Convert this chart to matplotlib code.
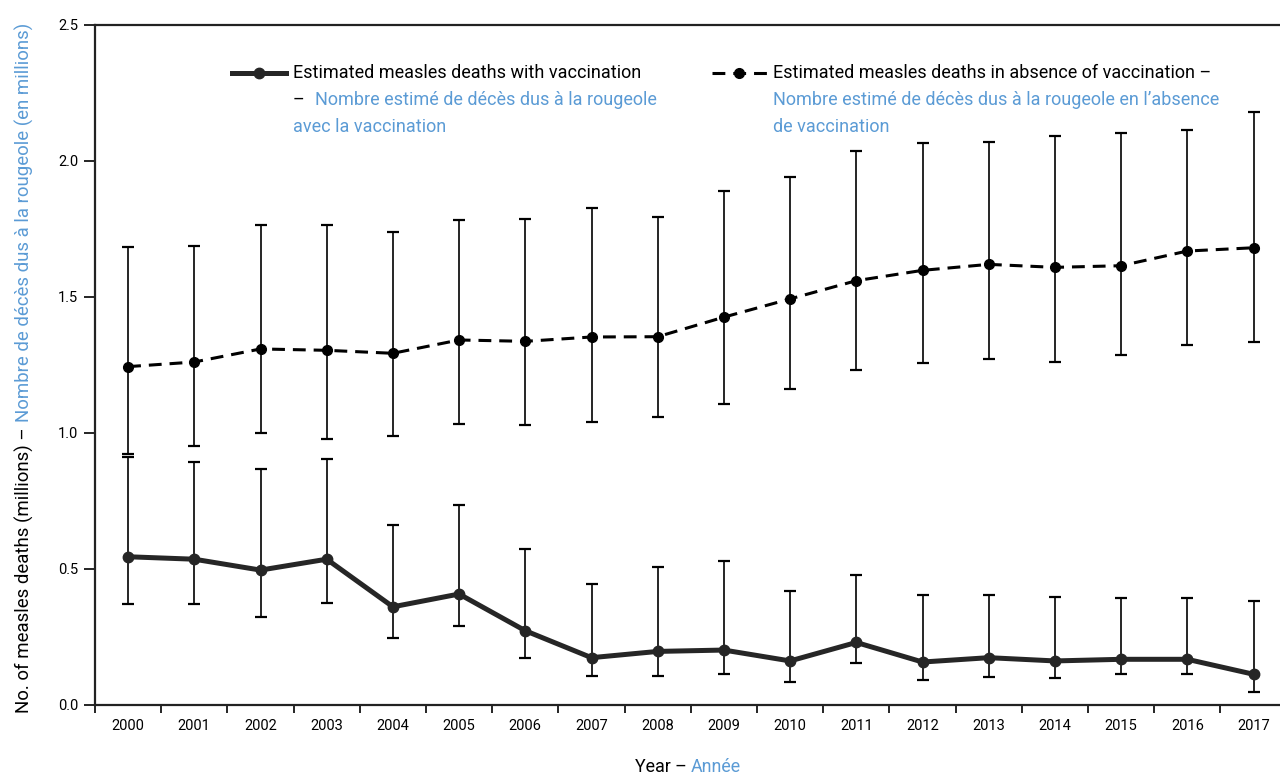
import matplotlib
matplotlib.use("Agg")
import matplotlib.pyplot as plt
from matplotlib import font_manager
from matplotlib.lines import Line2D
import numpy as np

# ---------------- data ----------------
years = [str(y) for y in range(2000, 2018)]
with_vacc = [0.545, 0.536, 0.496, 0.536, 0.361, 0.408, 0.273, 0.174, 0.197,
             0.202, 0.162, 0.230, 0.158, 0.174, 0.162, 0.168, 0.168, 0.113]
with_lo = [0.370, 0.370, 0.325, 0.375, 0.247, 0.292, 0.174, 0.108, 0.108,
           0.115, 0.086, 0.153, 0.092, 0.103, 0.098, 0.115, 0.115, 0.049]
with_hi = [0.913, 0.894, 0.868, 0.906, 0.663, 0.734, 0.575, 0.446, 0.508,
           0.530, 0.420, 0.479, 0.403, 0.403, 0.397, 0.392, 0.392, 0.381]
no_vacc = [1.244, 1.261, 1.309, 1.304, 1.293, 1.342, 1.337, 1.353, 1.354,
           1.426, 1.493, 1.560, 1.598, 1.620, 1.609, 1.615, 1.669, 1.681]
no_lo = [0.923, 0.951, 1.000, 0.978, 0.990, 1.034, 1.028, 1.039, 1.057,
         1.105, 1.161, 1.232, 1.256, 1.271, 1.261, 1.288, 1.322, 1.335]
no_hi = [1.683, 1.688, 1.766, 1.766, 1.738, 1.783, 1.788, 1.827, 1.795,
         1.889, 1.942, 2.038, 2.065, 2.070, 2.093, 2.104, 2.114, 2.181]
yticks = [0.0, 0.5, 1.0, 1.5, 2.0, 2.5]

leg1_en = "Estimated measles deaths with vaccination"
leg1_fr_a = "Nombre estimé de décès dus à la rougeole"
leg1_fr_b = "avec la vaccination"
leg2_en = "Estimated measles deaths in absence of vaccination –"
leg2_fr_a = "Nombre estimé de décès dus à la rougeole en l’absence"
leg2_fr_b = "de vaccination"
ylab_en = "No. of measles deaths (millions) – "
ylab_fr = "Nombre de décès dus à la rougeole (en millions)"
xlab_en = "Year – "
xlab_fr = "Année"

# ---------------- fonts ----------------
def pick_font(cands):
    for c in cands:
        try:
            font_manager.findfont(font_manager.FontProperties(family=c),
                                  fallback_to_default=False)
            return c
        except Exception:
            pass
    return "DejaVu Sans"

FONT = pick_font(["Liberation Sans Narrow", "DejaVu Sans Condensed",
                  "Roboto", "Liberation Sans", "DejaVu Sans"])
plt.rcParams['font.family'] = [FONT, 'DejaVu Sans']

BLUE = "#5b9bd5"
DARK = "#262626"
W, H = 1280, 776

fig = plt.figure(figsize=(12.8, 7.76), dpi=100)
renderer = fig.canvas.get_renderer()
fx = lambda px: px / W
fy = lambda py: 1 - py / H


def fit_size(text, target_px, base=12.0):
    t = fig.text(0, 0, text, fontsize=base)
    w = t.get_window_extent(renderer).width
    t.remove()
    return base * target_px / w


FS = fit_size(leg1_en, 345)
TFS = fit_size("2000", 33)
YFS = fit_size(ylab_en + ylab_fr, 690)
XFS = fit_size(xlab_en + xlab_fr, 107)

ax = fig.add_axes([fx(95), fy(705), fx(1280) - fx(95), fy(25) - fy(705)])
x = np.arange(len(years))

ax.errorbar(x, no_vacc,
            yerr=[np.array(no_vacc) - np.array(no_lo), np.array(no_hi) - np.array(no_vacc)],
            fmt='none', ecolor='black', elinewidth=1.2, capsize=4, capthick=1.6, zorder=2)
ax.errorbar(x, with_vacc,
            yerr=[np.array(with_vacc) - np.array(with_lo), np.array(with_hi) - np.array(with_vacc)],
            fmt='none', ecolor='black', elinewidth=1.2, capsize=4, capthick=1.6, zorder=2)

ax.plot(x, no_vacc, color='black', lw=2.2, dashes=(4.2, 2.6),
        marker='o', ms=7, zorder=3)
ax.plot(x, with_vacc, color=DARK, lw=3.6,
        marker='o', ms=7.5, zorder=3)

ax.set_xlim(-0.5, 17.4)
ax.set_ylim(0, 2.5)
ax.set_yticks(yticks)
ax.set_yticklabels([f"{v:.1f}" for v in yticks])
ax.set_xticks(x)
ax.set_xticklabels(years)
ax.set_xticks(np.arange(-0.5, 17.5, 1.0), minor=True)
ax.tick_params(axis='x', which='major', length=0, pad=10, labelsize=TFS)
ax.tick_params(axis='x', which='minor', length=6, width=1.2, direction='out')
ax.tick_params(axis='y', which='major', length=8, width=1.2, direction='out',
               pad=4, labelsize=TFS)
for s in ['left', 'bottom', 'top']:
    ax.spines[s].set_linewidth(1.6)
    ax.spines[s].set_color('#222222')
ax.spines['right'].set_visible(False)

# ---------------- legend (manual) ----------------
fig.add_artist(Line2D([fx(232), fx(286)], [fy(73), fy(73)], color=DARK, lw=3.6))
fig.add_artist(Line2D([fx(259)], [fy(73)], color=DARK, marker='o', ms=7.5))
fig.text(fx(293), fy(73), leg1_en, fontsize=FS, color='black', va='center', ha='left')
fig.text(fx(293), fy(100), "–", fontsize=FS, color='black', va='center', ha='left')
fig.text(fx(315), fy(100), leg1_fr_a, fontsize=FS, color=BLUE, va='center', ha='left')
fig.text(fx(293), fy(127), leg1_fr_b, fontsize=FS, color=BLUE, va='center', ha='left')

fig.add_artist(Line2D([fx(712), fx(767)], [fy(73), fy(73)], color='black', lw=2.2,
                      dashes=(4.2, 2.6)))
fig.add_artist(Line2D([fx(739)], [fy(73)], color='black', marker='o', ms=7))
fig.text(fx(773), fy(73), leg2_en, fontsize=FS, color='black', va='center', ha='left')
fig.text(fx(773), fy(100), leg2_fr_a, fontsize=FS, color=BLUE, va='center', ha='left')
fig.text(fx(773), fy(127), leg2_fr_b, fontsize=FS, color=BLUE, va='center', ha='left')

# ---------------- two-colour axis labels ----------------
t1 = fig.text(0, fy(767), xlab_en, fontsize=XFS, color='black', va='center', ha='left')
t2 = fig.text(0, fy(767), xlab_fr, fontsize=XFS, color=BLUE, va='center', ha='left')
w1 = t1.get_window_extent(renderer).width
w2 = t2.get_window_extent(renderer).width
start = 688 - (w1 + w2) / 2
t1.set_x(fx(start))
t2.set_x(fx(start + w1))

u1 = fig.text(fx(24), 0, ylab_en, fontsize=YFS, color='black', rotation=90,
              ha='center', va='bottom')
u2 = fig.text(fx(24), 0, ylab_fr, fontsize=YFS, color=BLUE, rotation=90,
              ha='center', va='bottom')
h1 = u1.get_window_extent(renderer).height
h2 = u2.get_window_extent(renderer).height
ystart = (H - 368) - (h1 + h2) / 2
u1.set_y(ystart / H)
u2.set_y((ystart + h1) / H)

fig.savefig("out.png", dpi=100)
